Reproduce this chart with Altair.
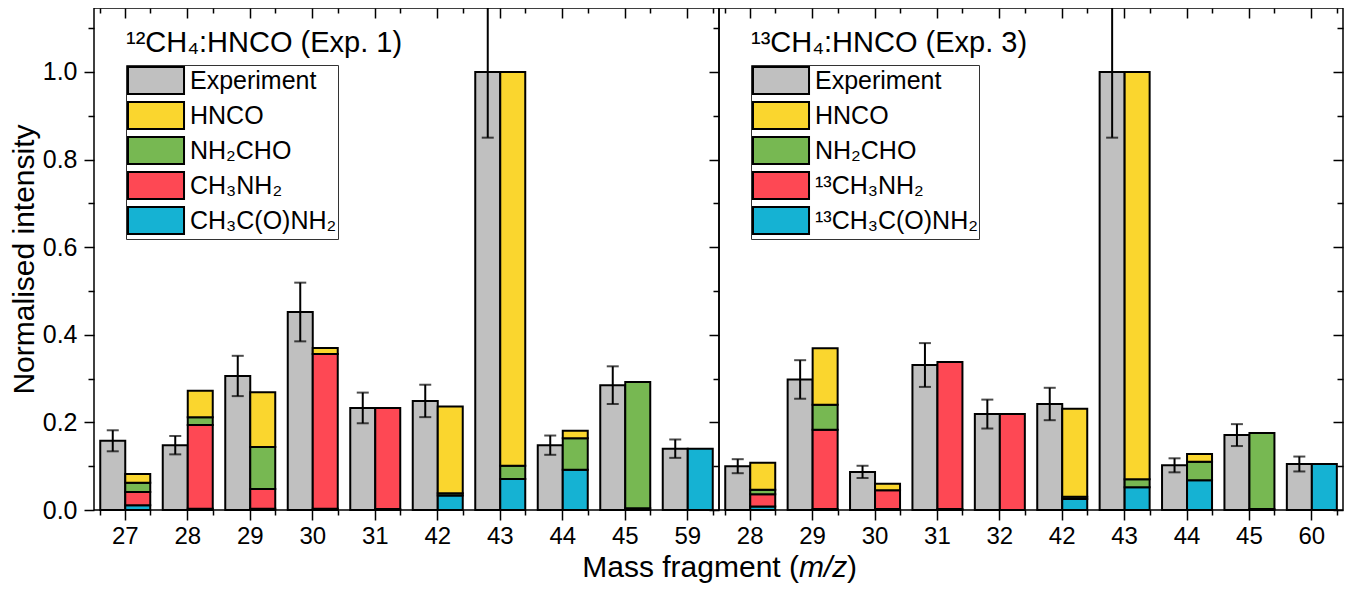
import altair as alt
import pandas as pd

# ---------------- data ----------------
mz1 = ["27", "28", "29", "30", "31", "42", "43", "44", "45", "59"]
exp1 = [0.158, 0.148, 0.306, 0.452, 0.233, 0.249, 1.000, 0.148, 0.285, 0.140]
err1 = [0.024, 0.021, 0.046, 0.067, 0.035, 0.037, 0.150, 0.022, 0.043, 0.021]
acet1 = [0.011, 0.003, 0.003, 0.003, 0.002, 0.033, 0.071, 0.092, 0.004, 0.140]
meth1 = [0.030, 0.191, 0.045, 0.353, 0.231, 0.000, 0.000, 0.000, 0.000, 0.000]
form1 = [0.021, 0.018, 0.096, 0.000, 0.000, 0.005, 0.030, 0.072, 0.288, 0.000]
hnco1 = [0.020, 0.060, 0.125, 0.014, 0.000, 0.198, 0.899, 0.017, 0.000, 0.000]

mz2 = ["28", "29", "30", "31", "32", "42", "43", "44", "45", "60"]
exp2 = [0.100, 0.298, 0.087, 0.331, 0.219, 0.242, 1.000, 0.102, 0.171, 0.105]
err2 = [0.016, 0.044, 0.014, 0.050, 0.033, 0.037, 0.150, 0.016, 0.025, 0.017]
acet2 = [0.008, 0.002, 0.002, 0.002, 0.000, 0.025, 0.052, 0.068, 0.002, 0.105]
meth2 = [0.028, 0.181, 0.043, 0.336, 0.219, 0.000, 0.000, 0.000, 0.000, 0.000]
form2 = [0.010, 0.057, 0.000, 0.000, 0.000, 0.005, 0.018, 0.042, 0.174, 0.000]
hnco2 = [0.062, 0.129, 0.015, 0.000, 0.000, 0.201, 0.930, 0.018, 0.000, 0.000]

names1 = ["Experiment", "HNCO", "NH₂CHO", "CH₃NH₂", "CH₃C(O)NH₂"]
names2 = ["Experiment", "HNCO", "NH₂CHO", "¹³CH₃NH₂", "¹³CH₃C(O)NH₂"]
colors = ["#c0c0c0", "#fad62e", "#77b852", "#fe4854", "#15b2d3"]
titles = ["¹²CH₄:HNCO (Exp. 1)", "¹³CH₄:HNCO (Exp. 3)"]
y_major = [0.0, 0.2, 0.4, 0.6, 0.8, 1.0]
y_minor = [0.1, 0.3, 0.5, 0.7, 0.9, 1.1]

FONT = "Liberation Sans"
H = 502
YMAX = 1.146


def panel(mz, exp, err, acet, meth, form, hnco, names, title, width, first):
    exp_df = pd.DataFrame({"mz": mz, "val": exp, "err": err})
    exp_df["lo"] = exp_df["val"] - exp_df["err"]
    exp_df["hi"] = exp_df["val"] + exp_df["err"]
    exp_df["kind"] = "E"
    exp_df["sp"] = names[0]

    caps_df = pd.concat([
        pd.DataFrame({"mz": mz, "kind": "E", "yv": exp_df["lo"]}),
        pd.DataFrame({"mz": mz, "kind": "E", "yv": exp_df["hi"]}),
    ])

    rows = []
    comps = [(acet, names[4]), (meth, names[3]), (form, names[2]), (hnco, names[1])]
    for i, m in enumerate(mz):
        for order, (vals, nm) in enumerate(comps):
            if vals[i] > 0:
                rows.append({"mz": m, "val": vals[i], "sp": nm, "ord": order, "kind": "M"})
    mod_df = pd.DataFrame(rows)

    xscale = alt.Scale(domain=mz, paddingInner=0.2, paddingOuter=0.1)
    yscale = alt.Scale(domain=[0, YMAX], nice=False, zero=True)
    oscale = alt.Scale(domain=["E", "M"], paddingInner=0, paddingOuter=0)
    cscale = alt.Scale(domain=names, range=colors)

    leg = alt.Legend(
        orient="none", legendX=32, legendY=57, title=None,
        symbolType="M-1,-1H3.15V1H-1Z", symbolSize=729,
        symbolStrokeColor="black", symbolStrokeWidth=2, symbolOpacity=1,
        labelFontSize=25, labelFont=FONT, labelColor="black",
        labelOffset=34, labelLimit=400, rowPadding=0, padding=1,
        strokeColor="#333333", fillColor="white",
    )

    ax_x_main = alt.Axis(orient="bottom", labelAngle=0, tickSize=10, labelFontSize=24,
                         labelPadding=4, domain=False, title=None)
    ax_x_minor = alt.Axis(orient="bottom", tickBand="extent", tickSize=5, labels=False,
                          domain=False, title=None)
    ax_x_top = alt.Axis(orient="bottom", offset=-H, tickSize=10, labels=False,
                        domain=False, title=None)
    ax_x_top_minor = alt.Axis(orient="bottom", offset=-H, tickBand="extent", tickSize=5,
                              labels=False, domain=False, title=None)
    if first:
        ax_y_main = alt.Axis(orient="left", values=y_major, format=".1f", tickSize=10,
                             labelFontSize=25, labelPadding=7, title="Normalised intensity",
                             titleFontSize=30, titlePadding=3, domain=False)
        ax_y_minor = alt.Axis(orient="left", values=y_minor, tickSize=6, labels=False,
                              domain=False, title=None)
    else:
        ax_y_main = None
        ax_y_minor = None
    ax_y_right = alt.Axis(orient="left", offset=-width, values=y_major, tickSize=10,
                          labels=False, domain=False, title=None)
    ax_y_right_minor = alt.Axis(orient="left", offset=-width, values=y_minor, tickSize=6,
                                labels=False, domain=False, title=None)

    exp_bars = alt.Chart(exp_df).mark_bar(stroke="black", strokeWidth=2, opacity=1).encode(
        x=alt.X("mz:N", scale=xscale, axis=ax_x_main),
        xOffset=alt.XOffset("kind:N", scale=oscale),
        y=alt.Y("val:Q", scale=yscale, axis=ax_y_main),
        color=alt.Color("sp:N", scale=cscale, legend=leg),
    )
    mod_bars = alt.Chart(mod_df).mark_bar(stroke="black", strokeWidth=2, opacity=1).encode(
        x=alt.X("mz:N", scale=xscale, axis=ax_x_minor),
        xOffset=alt.XOffset("kind:N", scale=oscale),
        y=alt.Y("val:Q", scale=yscale, axis=ax_y_minor, stack="zero"),
        color=alt.Color("sp:N", scale=cscale, legend=leg),
        order=alt.Order("ord:Q"),
    )
    rules = alt.Chart(exp_df).mark_rule(color="black", strokeWidth=2, clip=True).encode(
        x=alt.X("mz:N", scale=xscale, axis=ax_x_top),
        xOffset=alt.XOffset("kind:N", scale=oscale),
        y=alt.Y("lo:Q", scale=yscale, axis=ax_y_right),
        y2="hi:Q",
    )
    caps = alt.Chart(caps_df).mark_tick(color="black", thickness=2, size=12, clip=True).encode(
        x=alt.X("mz:N", scale=xscale, axis=ax_x_top_minor),
        xOffset=alt.XOffset("kind:N", scale=oscale),
        y=alt.Y("yv:Q", scale=yscale, axis=ax_y_right_minor),
    )
    ttl = alt.Chart(pd.DataFrame({"t": [title]})).mark_text(
        align="left", baseline="alphabetic", fontSize=29, font=FONT, color="black"
    ).encode(x=alt.value(32), y=alt.value(44), text="t:N")

    layers = [exp_bars, mod_bars, rules, caps, ttl]
    if first:
        t1 = alt.Chart(pd.DataFrame({"t": ["Mass fragment ("]})).mark_text(
            align="right", baseline="alphabetic", fontSize=30, font=FONT, color="black"
        ).encode(x=alt.value(705), y=alt.value(569), text="t:N")
        t2 = alt.Chart(pd.DataFrame({"t": ["m/z"]})).mark_text(
            align="left", baseline="alphabetic", fontSize=30, font=FONT, fontStyle="italic",
            color="black"
        ).encode(x=alt.value(705), y=alt.value(569), text="t:N")
        t3 = alt.Chart(pd.DataFrame({"t": [")"]})).mark_text(
            align="left", baseline="alphabetic", fontSize=30, font=FONT, color="black"
        ).encode(x=alt.value(753), y=alt.value(569), text="t:N")
        layers += [t1, t2, t3]

    return alt.layer(*layers).resolve_axis(x="independent", y="independent").properties(
        width=width, height=H
    )


left = panel(mz1, exp1, err1, acet1, meth1, form1, hnco1, names1, titles[0], 625, True)
right = panel(mz2, exp2, err2, acet2, meth2, form2, hnco2, names2, titles[1], 624, False)

chart = (
    alt.hconcat(left, right, spacing=0, bounds="flush")
    .resolve_scale(x="independent", y="independent", color="independent")
    .properties(padding={"left": 0, "top": -2, "right": 5, "bottom": 0})
    .configure_view(stroke="black", strokeWidth=1.5)
    .configure_axis(labelFont=FONT, titleFont=FONT, labelColor="black", titleColor="black",
                    tickColor="black", tickWidth=1.5, grid=False, titleFontWeight="normal")
)

chart.save("out.html", embed_options={"renderer": "svg", "actions": False})
